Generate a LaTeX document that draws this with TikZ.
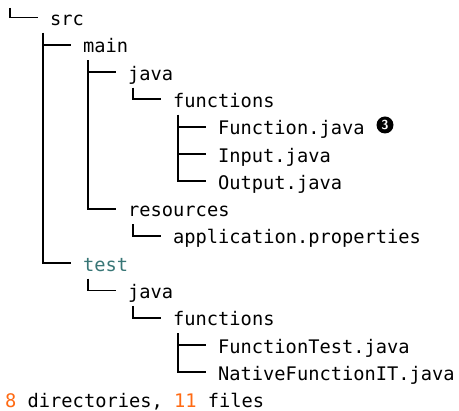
\documentclass[tikz,border=0pt]{standalone}
\usepackage{fontspec}
\setmonofont{DejaVu Sans Mono}
\usepackage{xcolor}
\usepackage{tikz}
\definecolor{treeteal}{RGB}{56,118,118}
\definecolor{countorange}{RGB}{255,106,19}

\begin{document}
\begin{tikzpicture}[
      x=1pt, y=-1pt,
      entry/.style={anchor=west, inner sep=0pt, text height=14pt, text depth=3.9pt, font=\ttfamily\fontsize{18.7}{22}\selectfont},
      branch/.style={line width=1.9pt, shorten >=12.5pt},
      callout/.style={circle, fill=black, text=white, inner sep=0pt, minimum size=17pt, font=\sffamily\bfseries\fontsize{13}{13}\selectfont}
    ]
      \useasboundingbox (0,0) rectangle (459,411);

      \node[entry] (src) at (50,20.5) {src};
      \node[entry] (main) at (83,47.8) {main};
      \node[entry] (mjava) at (128,75.1) {java};
      \node[entry] (mfunc) at (173,102.4) {functions};
      \node[entry] (function) at (218,129.7) {Function.java};
      \node[entry] (input) at (218,157.0) {Input.java};
      \node[entry] (output) at (218,184.3) {Output.java};
      \node[entry] (resources) at (128,211.6) {resources};
      \node[entry] (props) at (173,238.9) {application.properties};
      \node[entry, text=treeteal] (test) at (83,266.2) {test};
      \node[entry] (tjava) at (128,293.5) {java};
      \node[entry] (tfunc) at (173,320.8) {functions};
      \node[entry] (functest) at (218,348.1) {FunctionTest.java};
      \node[entry] (nativeit) at (218,375.4) {NativeFunctionIT.java};
      \node[entry] (summary) at (5,402.7) {{\color{countorange}8} directories, {\color{countorange}11} files};
      \node[callout] (note) at (385,125) {3};

      \coordinate (top) at (10,8);
      \draw[branch] (top) |- ([yshift=3pt]src.west);
      % src
      \draw[branch] ([xshift=-7pt,yshift=-12.5pt]src.west) |- ([yshift=3pt]main.west);
      \draw[branch] ([xshift=-7pt,yshift=-12.5pt]src.west) |- ([yshift=3pt]test.west);
      % main
      \draw[branch] ([xshift=5pt,yshift=-12.5pt]main.west) |- ([yshift=3pt]mjava.west);
      \draw[branch] ([xshift=5pt,yshift=-12.5pt]main.west) |- ([yshift=3pt]resources.west);
      \draw[branch] ([xshift=5pt,yshift=-12.5pt]mjava.west) |- ([yshift=3pt]mfunc.west);
      \draw[branch] ([xshift=5pt,yshift=-12.5pt]mfunc.west) |- ([yshift=3pt]function.west);
      \draw[branch] ([xshift=5pt,yshift=-12.5pt]mfunc.west) |- ([yshift=3pt]input.west);
      \draw[branch] ([xshift=5pt,yshift=-12.5pt]mfunc.west) |- ([yshift=3pt]output.west);
      \draw[branch] ([xshift=5pt,yshift=-12.5pt]resources.west) |- ([yshift=3pt]props.west);
      % test
      \draw[branch] ([xshift=5pt,yshift=-12.5pt]test.west) |- ([yshift=3pt]tjava.west);
      \draw[branch] ([xshift=5pt,yshift=-12.5pt]tjava.west) |- ([yshift=3pt]tfunc.west);
      \draw[branch] ([xshift=5pt,yshift=-12.5pt]tfunc.west) |- ([yshift=3pt]functest.west);
      \draw[branch] ([xshift=5pt,yshift=-12.5pt]tfunc.west) |- ([yshift=3pt]nativeit.west);
    \end{tikzpicture}
\end{document}
